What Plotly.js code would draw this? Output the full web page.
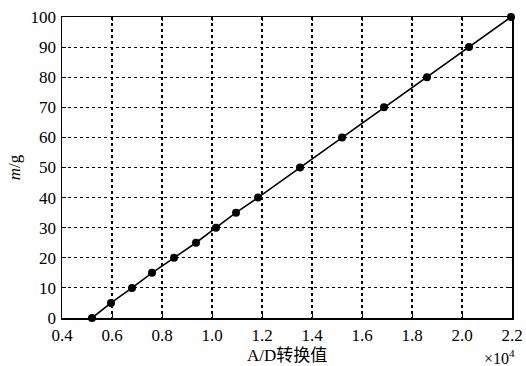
<!DOCTYPE html>
<html>
<head>
<meta charset="utf-8">
<script src="https://cdn.plot.ly/plotly-3.0.1.min.js"></script>
<style>html,body{margin:0;padding:0;background:#fff;}#chart{width:526px;height:366px;}</style>
</head>
<body>
<div id="chart"></div>
<script>
// A/D conversion values (in units of 1e4)
const adValues = [0.52, 0.596, 0.68, 0.76, 0.848, 0.936, 1.016, 1.096, 1.184, 1.352, 1.52, 1.688, 1.86, 2.028, 2.196];
// mass in grams
const massValues = [0, 5, 10, 15, 20, 25, 30, 35, 40, 50, 60, 70, 80, 90, 100];
const xTickVals = [0.4, 0.6, 0.8, 1.0, 1.2, 1.4, 1.6, 1.8, 2.0, 2.2];
const xTickText = ["0.4", "0.6", "0.8", "1.0", "1.2", "1.4", "1.6", "1.8", "2.0", "2.2"];
const yTickVals = [0, 10, 20, 30, 40, 50, 60, 70, 80, 90, 100];
const yTickText = ["0", "10", "20", "30", "40", "50", "60", "70", "80", "90", "100"];

const serif = "Liberation Serif";
const cjk = "Liberation Serif, Noto Sans CJK SC";

const trace = {
  x: adValues, y: massValues, type: 'scatter', mode: 'lines+markers',
  line: {color: '#000', width: 1.6},
  marker: {color: '#000', size: 8},
  cliponaxis: false
};

const layout = {
  width: 526, height: 366,
  margin: {l: 62, r: 14, t: 17, b: 48},
  paper_bgcolor: '#fff', plot_bgcolor: '#fff',
  showlegend: false,
  font: {family: serif, size: 17, color: '#000'},
  xaxis: {
    range: [0.4, 2.2], tickmode: 'array', tickvals: xTickVals, ticktext: xTickText,
    showgrid: true, gridcolor: '#000', gridwidth: 1.2, griddash: 'dot',
    zeroline: false, showline: true, linecolor: '#000', linewidth: 1.5,
    mirror: 'ticks', ticks: 'inside', ticklen: 4, tickcolor: '#000',
    tickfont: {family: serif, size: 17, color: '#000'}, ticklabelstandoff: 1
  },
  yaxis: {
    range: [0, 100], tickmode: 'array', tickvals: yTickVals, ticktext: yTickText,
    showgrid: true, gridcolor: '#000', gridwidth: 1.2, griddash: 'dot',
    zeroline: false, showline: true, linecolor: '#000', linewidth: 1.5,
    mirror: 'ticks', ticks: 'inside', ticklen: 4, tickcolor: '#000',
    tickfont: {family: serif, size: 17, color: '#000'}, ticklabelstandoff: 1
  },
  annotations: [
    {text: 'A/D转换值', xref: 'paper', yref: 'paper', x: 0.5, y: -0.125, yanchor: 'middle', xanchor: 'center', showarrow: false, font: {family: cjk, size: 17, color: '#000'}},
    {text: '×10<sup>4</sup>', xref: 'paper', yref: 'paper', x: 1.012, y: -0.128, yanchor: 'middle', xanchor: 'right', showarrow: false, font: {family: serif, size: 16, color: '#000'}},
    {text: '<i>m</i>/g', xref: 'paper', yref: 'paper', x: -0.105, y: 0.5, xanchor: 'center', yanchor: 'middle', textangle: -90, showarrow: false, font: {family: serif, size: 17, color: '#000'}}
  ]
};

Plotly.newPlot('chart', [trace], layout, {displayModeBar: false, staticPlot: true});
</script>
</body>
</html>
